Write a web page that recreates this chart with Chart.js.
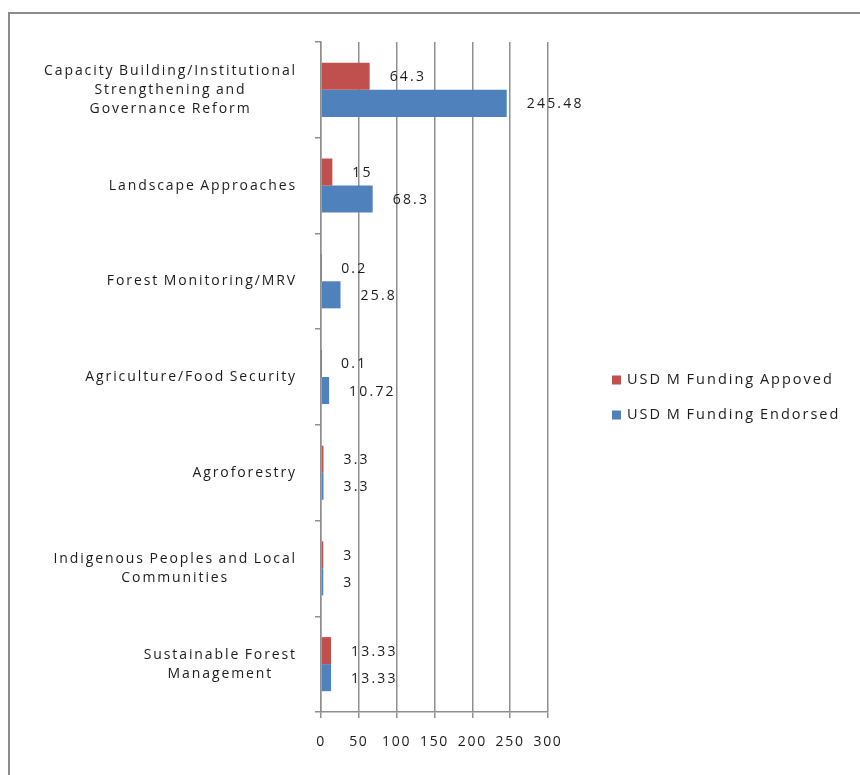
<!DOCTYPE html>
<html>
<head>
<meta charset="utf-8">
<script src="https://cdn.jsdelivr.net/npm/chart.js@4.4.1/dist/chart.umd.min.js"></script>
<style>
  html, body { margin: 0; padding: 0; background: #fff; }
  #wrap { position: relative; width: 860px; height: 775px; overflow: hidden; }
  #frame { position: absolute; left: 8px; top: 12px; width: 900px; height: 900px;
           border: 2px solid #8c8c8c; box-sizing: border-box; }
  canvas { position: absolute; left: 0; top: 0; }
</style>
</head>
<body>
<div id="wrap">
  <div id="frame"></div>
  <canvas id="c" width="860" height="775"></canvas>
</div>
<script>
// Funding by thematic area (USD millions)
const categories = [
  ['Capacity Building/Institutional', 'Strengthening and', 'Governance Reform'],
  ['Landscape Approaches'],
  ['Forest Monitoring/MRV'],
  ['Agriculture/Food Security'],
  ['Agroforestry'],
  ['Indigenous Peoples and Local', 'Communities'],
  ['Sustainable Forest', 'Management']
];
const approved = [64.3, 15, 0.2, 0.1, 3.3, 3, 13.33];
const endorsed = [245.48, 68.3, 25.8, 10.72, 3.3, 3, 13.33];
const seriesNames = ['USD M Funding Appoved', 'USD M Funding Endorsed'];
const xTicks = [0, 50, 100, 150, 200, 250, 300];

const FONT = '"Open Sans", "DejaVu Sans", sans-serif';
const TEXT = '#1c1c1c';
const GRID = '#8f8f8f';
const SPACING = '1.7px';

// Wide letter spacing for every piece of text on the canvas
const spacingPlugin = {
  id: 'spacing',
  beforeLayout(chart) { chart.ctx.letterSpacing = SPACING; },
  beforeDraw(chart) { chart.ctx.letterSpacing = SPACING; }
};

// Category names: each block sits right-aligned, its lines centred within it
const categoryLabels = {
  id: 'categoryLabels',
  afterDraw(chart) {
    const { ctx } = chart;
    const y = chart.scales.y;
    const right = chart.chartArea.left - 24;
    ctx.save();
    ctx.letterSpacing = '1.9px';
    ctx.wordSpacing = '-1px';
    ctx.font = '14px ' + FONT;
    ctx.fillStyle = TEXT;
    ctx.textAlign = 'center';
    ctx.textBaseline = 'middle';
    chart.data.labels.forEach((lines, i) => {
      const py = y.getPixelForValue(i);
      const w = Math.max(...lines.map(l => ctx.measureText(l).width));
      const cx = right - w / 2;
      lines.forEach((l, j) => ctx.fillText(l, cx, py + (j - (lines.length - 1) / 2) * 19));
    });
    ctx.restore();
  }
};

// Value labels to the right of each bar
const valueLabels = {
  id: 'valueLabels',
  afterDatasetsDraw(chart) {
    const { ctx } = chart;
    ctx.save();
    ctx.letterSpacing = '2.2px';
    ctx.font = '14px ' + FONT;
    ctx.fillStyle = TEXT;
    ctx.textAlign = 'left';
    ctx.textBaseline = 'middle';
    chart.data.datasets.forEach((ds, i) => {
      chart.getDatasetMeta(i).data.forEach((bar, j) => {
        ctx.fillText(String(ds.data[j]), bar.x + 20, bar.y + 1);
      });
    });
    ctx.restore();
  }
};

// Series key on the right-hand side
const seriesKey = {
  id: 'seriesKey',
  afterDraw(chart) {
    const { ctx } = chart;
    const x = chart.chartArea.right + 64;
    const y0 = 380;
    ctx.save();
    ctx.letterSpacing = '2px';
    ctx.wordSpacing = '-1px';
    ctx.font = '14.5px ' + FONT;
    ctx.textAlign = 'left';
    ctx.textBaseline = 'middle';
    chart.data.datasets.forEach((ds, i) => {
      const yy = y0 + i * 35;
      ctx.fillStyle = ds.backgroundColor;
      ctx.fillRect(x, yy - 4.5, 9, 9);
      ctx.fillStyle = TEXT;
      ctx.fillText(ds.label, x + 15, yy);
    });
    ctx.restore();
  }
};

new Chart(document.getElementById('c'), {
  type: 'bar',
  data: {
    labels: categories,
    datasets: [
      { label: seriesNames[0], data: approved, backgroundColor: '#C0504D' },
      { label: seriesNames[1], data: endorsed, backgroundColor: '#4F81BD' }
    ]
  },
  options: {
    indexAxis: 'y',
    responsive: false,
    animation: false,
    devicePixelRatio: 1,
    layout: { padding: { top: 42, right: 312, bottom: 0, left: 0 } },
    datasets: { bar: { barPercentage: 1, categoryPercentage: 0.565 } },
    plugins: { legend: { display: false }, tooltip: { enabled: false } },
    scales: {
      x: {
        min: 0, max: 300,
        afterBuildTicks: s => { s.ticks = xTicks.map(v => ({ value: v })); },
        afterFit: s => { s.height = 63; },
        ticks: { autoSkip: false, minRotation: 0, maxRotation: 0, padding: 16,
                 color: TEXT, font: { family: FONT, size: 14 } },
        grid: { color: GRID, lineWidth: 1.5, tickLength: 6 },
        border: { color: GRID, width: 1.5 }
      },
      y: {
        afterFit: s => { s.width = 321; },
        ticks: { display: false },
        grid: { drawOnChartArea: false, offset: true, tickLength: 6, color: GRID, lineWidth: 1.5 },
        border: { color: GRID, width: 1.5 }
      }
    }
  },
  plugins: [spacingPlugin, categoryLabels, valueLabels, seriesKey]
});
</script>
</body>
</html>
